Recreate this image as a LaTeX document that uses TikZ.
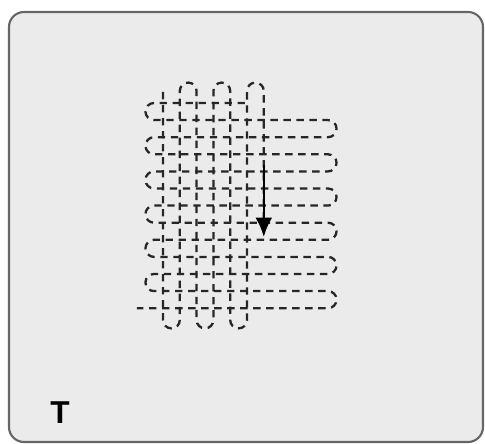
\documentclass[tikz,border=0pt]{standalone}
\usepackage{fontspec}
\setsansfont{Liberation Sans}
\usetikzlibrary{arrows.meta}

\begin{document}
\begin{tikzpicture}[x=0.2mm,y=-0.2mm,line width=0.2mm,
  weave/.style={black!85,line width=1.3pt,dash pattern=on 4.2pt off 3.2pt},
  frame/.style={draw=black!60,fill=black!8,line width=1.2pt,rounded corners=8.5pt}]
\useasboundingbox (0,0) rectangle (485,444);
\clip (0,0) rectangle (485,444);
\draw[frame] (9,12) rectangle (483,442);

% vertical meander
\draw[weave] (163,92) -- (163,320) arc(180:0:8.4)
  -- (179.8,91) arc(180:360:8.4)
  -- (196.6,320) arc(180:0:8.4)
  -- (213.4,91) arc(180:360:8.4)
  -- (230.2,320) arc(180:0:8.4)
  -- (247,91) arc(180:360:8.4)
  -- (263.8,235);

% horizontal meander
\draw[weave] (245,103) -- (154,103) arc(270:90:8.55)
  -- (328,120.1) arc(-90:90:8.55)
  -- (154,137.2) arc(270:90:8.55)
  -- (328,154.3) arc(-90:90:8.55)
  -- (154,171.4) arc(270:90:8.55)
  -- (328,188.5) arc(-90:90:8.55)
  -- (154,205.6) arc(270:90:8.55)
  -- (328,222.7) arc(-90:90:8.55)
  -- (154,239.8) arc(270:90:8.55)
  -- (328,256.9) arc(-90:90:8.55)
  -- (154,274) arc(270:90:8.55)
  -- (328,291.1) arc(-90:90:8.55)
  -- (137,308.2);

% direction of growth
\coordinate (tail) at (263.8,165);
\coordinate (tip) at (263.8,237);
\draw[-{Latex[length=11pt,width=9.6pt]},line width=1.4pt] (tail) -- (tip);

\node[font=\sffamily\bfseries\fontsize{18}{18}\selectfont] (label) at (60,413) {T};
\end{tikzpicture}
\end{document}
